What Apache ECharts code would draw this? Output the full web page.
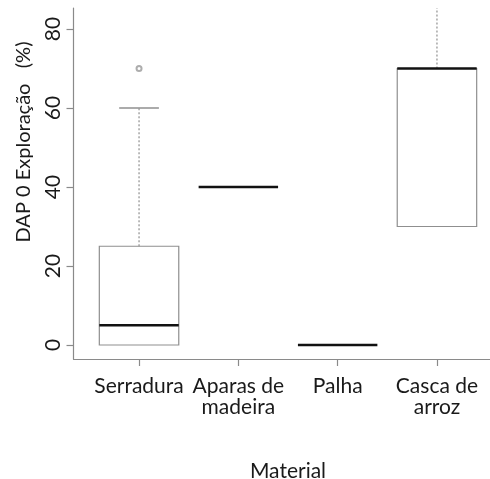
<!DOCTYPE html>
<html><head><meta charset="utf-8">
<script src="https://cdn.jsdelivr.net/npm/echarts@6/dist/echarts.min.js"></script>
<style>html,body{margin:0;padding:0;background:#fff}#c{width:490px;height:479px}</style>
</head><body><div id="c"></div>
<script>
const categories = ['Serradura', 'Aparas de\nmadeira', 'Palha', 'Casca de\narroz'];
// [lower whisker, Q1, median, Q3, upper whisker]
const boxStats = [
  [0, 0, 5, 25, 60],
  [40, 40, 40, 40, 40],
  [0, 0, 0, 0, 0],
  [30, 30, 70, 70, 90]
];
const outliers = [[1, 70]];
const yTicks = [0, 20, 40, 60, 80];
const xTicks = [1, 2, 3, 4];

const FONT = 'Lato';
const TEXT = '#1a1a1a';
const chart = echarts.init(document.getElementById('c'), null, {renderer: 'canvas'});

const boxData = boxStats.map((s, i) => [i + 1].concat(s));

function renderBox(params, api) {
  const cs = params.coordSys;
  const top = cs.y, bottom = cs.y + cs.height;
  const clampY = y => Math.max(top, Math.min(bottom, y));
  const x = api.value(0);
  const lo = api.value(1), q1 = api.value(2), med = api.value(3), q3 = api.value(4), hi = api.value(5);
  const half = 0.4, cap = 0.2;
  const pL = api.coord([x - half, 0])[0], pR = api.coord([x + half, 0])[0];
  const cL = api.coord([x - cap, 0])[0], cR = api.coord([x + cap, 0])[0];
  const xc = api.coord([x, 0])[0];
  const yLo = api.coord([x, lo])[1], yQ1 = api.coord([x, q1])[1], yMed = api.coord([x, med])[1];
  const yQ3 = api.coord([x, q3])[1], yHi = api.coord([x, hi])[1];
  const grey = '#8f8f8f';
  const children = [];
  if (q3 > q1) {
    children.push({type: 'rect', shape: {x: pL, y: yQ3, width: pR - pL, height: yQ1 - yQ3},
      style: {fill: 'none', stroke: grey, lineWidth: 1.2}});
  }
  if (hi > q3) {
    children.push({type: 'line', shape: {x1: xc, y1: yQ3, x2: xc, y2: clampY(yHi)},
      style: {stroke: grey, lineWidth: 1.2, lineDash: [2, 2]}});
    if (yHi >= top) {
      children.push({type: 'line', shape: {x1: cL, y1: yHi, x2: cR, y2: yHi},
        style: {stroke: grey, lineWidth: 1.5}});
    }
  }
  if (lo < q1) {
    children.push({type: 'line', shape: {x1: xc, y1: yQ1, x2: xc, y2: clampY(yLo)},
      style: {stroke: grey, lineWidth: 1.2, lineDash: [2, 2]}});
    if (yLo <= bottom) {
      children.push({type: 'line', shape: {x1: cL, y1: yLo, x2: cR, y2: yLo},
        style: {stroke: grey, lineWidth: 1.5}});
    }
  }
  children.push({type: 'line', shape: {x1: pL, y1: yMed, x2: pR, y2: yMed},
    style: {stroke: '#111', lineWidth: 2.5}});
  return {type: 'group', children: children};
}

chart.setOption({
  animation: false,
  backgroundColor: '#fff',
  grid: {left: 73.5, top: 8, width: 429, height: 351, containLabel: false, outerBoundsMode: 'none'},
  xAxis: {
    type: 'value', min: 0.34, max: 4.66,
    splitLine: {show: false},
    axisLine: {show: true, onZero: false, lineStyle: {color: '#8a8a8a', width: 1.2}},
    axisTick: {show: true, length: 7, lineStyle: {color: '#8a8a8a', width: 1.2}, customValues: xTicks},
    axisLabel: {
      customValues: xTicks, margin: 17,
      formatter: v => categories[Math.round(v) - 1] || '',
      color: TEXT, fontFamily: FONT, fontSize: 21, lineHeight: 21, align: 'center'
    },
    name: 'Material', nameLocation: 'middle', nameGap: 102,
    nameTextStyle: {color: TEXT, fontFamily: FONT, fontSize: 21}
  },
  yAxis: {
    type: 'value', min: -3.54, max: 85.32,
    splitLine: {show: false},
    axisLine: {show: true, lineStyle: {color: '#8a8a8a', width: 1.2}},
    axisTick: {show: true, length: 7, lineStyle: {color: '#8a8a8a', width: 1.2}, customValues: yTicks},
    axisLabel: {
      customValues: yTicks, rotate: 90, margin: 10,
      color: TEXT, fontFamily: FONT, fontSize: 21
    }
  },
  graphic: [{
    type: 'text', x: 24, y: 142, rotation: Math.PI / 2,
    style: {text: 'DAP 0 Exploração   (%)', fill: TEXT, font: '20px ' + FONT,
      textAlign: 'center', textVerticalAlign: 'middle'}
  }],
  series: [
    {type: 'custom', renderItem: renderBox, data: boxData, encode: {x: 0, y: [1, 2, 3, 4, 5]}},
    {type: 'scatter', data: outliers, symbol: 'emptyCircle', symbolSize: 5,
      itemStyle: {color: '#999', borderColor: '#999', borderWidth: 1}}
  ]
});
</script></body></html>
